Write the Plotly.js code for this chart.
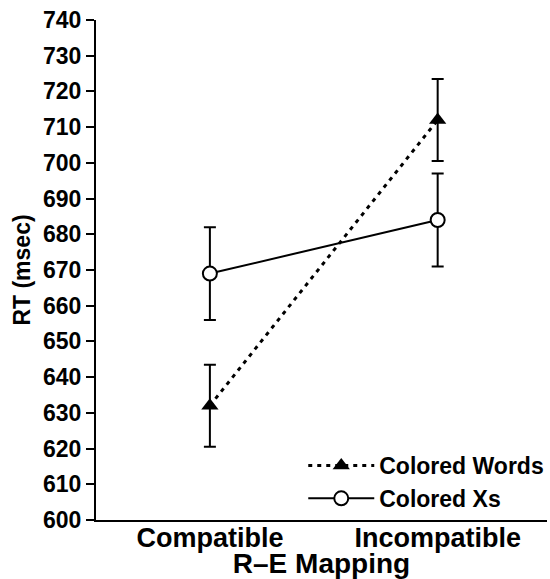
<!DOCTYPE html>
<html>
<head>
<meta charset="utf-8">
<script src="https://cdn.plot.ly/plotly-3.0.1.min.js"></script>
<style>html,body{margin:0;padding:0;background:#fff;}#chart{width:550px;height:579px;}</style>
</head>
<body>
<div id="chart"></div>
<script>
var categories = ["Compatible", "Incompatible"];
var wordsRT = [632, 712];
var wordsErr = [11.5, 11.5];
var xsRT = [669, 684];
var xsErr = [13, 13];
var yTicks = [600, 610, 620, 630, 640, 650, 660, 670, 680, 690, 700, 710, 720, 730, 740];

var FONT = "Liberation Sans, Arial, Helvetica, sans-serif";

var traces = [
  {
    x: categories, y: wordsRT, name: "Colored Words", type: "scatter", mode: "lines+markers",
    line: {color: "#000", width: 3, dash: "4px,5px"},
    marker: {symbol: "triangle-up", size: 15, color: "#000"},
    error_y: {type: "data", array: wordsErr, visible: true, color: "#000", thickness: 2, width: 6}
  },
  {
    x: categories, y: xsRT, name: "Colored Xs", type: "scatter", mode: "lines+markers",
    line: {color: "#000", width: 2},
    marker: {symbol: "circle", size: 14, color: "#fff", line: {color: "#000", width: 2}},
    error_y: {type: "data", array: xsErr, visible: true, color: "#000", thickness: 2, width: 6}
  }
];

var layout = {
  width: 550, height: 579,
  margin: {l: 96, r: 1, t: 20, b: 59},
  paper_bgcolor: "#fff", plot_bgcolor: "#fff",
  font: {family: FONT, color: "#000"},
  showlegend: true,
  legend: {
    x: 1.005, xanchor: "right", y: 0.0, yanchor: "bottom",
    font: {family: FONT, size: 23, weight: "bold", color: "#000"},
    bgcolor: "rgba(0,0,0,0)", itemwidth: 66, tracegroupgap: 0
  },
  xaxis: {
    type: "category", range: [-0.5, 1.48],
    showline: true, linecolor: "#000", linewidth: 2,
    showgrid: false, zeroline: false, ticks: "",
    ticklabelstandoff: -7,
    tickfont: {family: FONT, size: 27, weight: "bold"},
    title: {text: "R\u2013E Mapping", font: {family: FONT, size: 28, weight: "bold"}, standoff: 2}
  },
  yaxis: {
    range: [600, 740], tickvals: yTicks, ticktext: yTicks.map(String),
    showline: true, linecolor: "#000", linewidth: 2,
    showgrid: false, zeroline: false,
    ticks: "outside", ticklen: 8, tickwidth: 2, tickcolor: "#000",
    tickfont: {family: FONT, size: 23, weight: "bold"},
    title: {text: "RT (msec)", font: {family: FONT, size: 23, weight: "bold"}, standoff: 6}
  }
};

Plotly.newPlot("chart", traces, layout, {displayModeBar: false, staticPlot: true});
</script>
</body>
</html>
